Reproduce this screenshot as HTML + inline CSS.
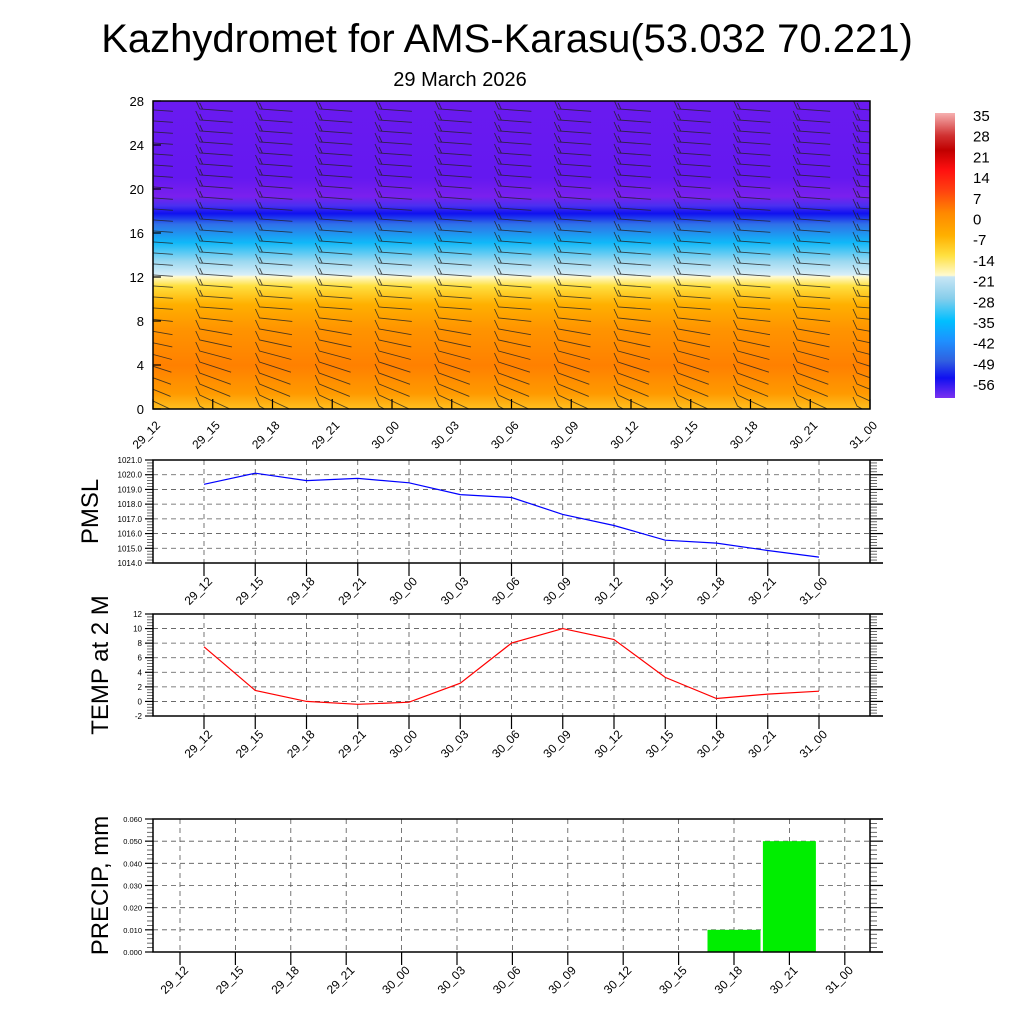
<!DOCTYPE html>
<html><head><meta charset="utf-8"><style>
html,body{margin:0;padding:0;background:#fff;}
svg{display:block;font-family:"Liberation Sans",sans-serif;}
</style></head><body>
<svg id="c" width="1024" height="1024" viewBox="0 0 1024 1024" xmlns="http://www.w3.org/2000/svg">
<defs>
<clipPath id="clipTop"><rect x="153" y="101" width="717" height="308"/></clipPath>
<linearGradient id="tg" x1="0" y1="0" x2="0" y2="1">
<stop offset="0" stop-color="#6a1af0"/>
<stop offset="0.25" stop-color="#6418f0"/>
<stop offset="0.31" stop-color="#7a20ee"/>
<stop offset="0.34" stop-color="#4a30f0"/>
<stop offset="0.365" stop-color="#1010f0"/>
<stop offset="0.40" stop-color="#3070e8"/>
<stop offset="0.46" stop-color="#10b8f8"/>
<stop offset="0.52" stop-color="#9ad8f0"/>
<stop offset="0.565" stop-color="#d8eef8"/>
<stop offset="0.57" stop-color="#fffad0"/>
<stop offset="0.60" stop-color="#ffe040"/>
<stop offset="0.66" stop-color="#ffb000"/>
<stop offset="0.74" stop-color="#ff9400"/>
<stop offset="0.86" stop-color="#ff8000"/>
<stop offset="0.95" stop-color="#ff9a00"/>
<stop offset="1" stop-color="#ffc020"/>
</linearGradient>
<linearGradient id="cb" x1="0" y1="0" x2="0" y2="1">
<stop offset="0" stop-color="#f6b0b0"/>
<stop offset="0.08" stop-color="#d03030"/>
<stop offset="0.13" stop-color="#c00000"/>
<stop offset="0.2" stop-color="#ff1010"/>
<stop offset="0.27" stop-color="#ff4010"/>
<stop offset="0.35" stop-color="#ff8800"/>
<stop offset="0.43" stop-color="#ffb000"/>
<stop offset="0.5" stop-color="#ffe040"/>
<stop offset="0.57" stop-color="#fffad0"/>
<stop offset="0.575" stop-color="#c8e6f5"/>
<stop offset="0.65" stop-color="#87ceeb"/>
<stop offset="0.73" stop-color="#00bfff"/>
<stop offset="0.8" stop-color="#1e90ff"/>
<stop offset="0.87" stop-color="#3060e0"/>
<stop offset="0.93" stop-color="#1010f0"/>
<stop offset="1" stop-color="#7a30f0"/>
</linearGradient>
</defs>
<text x="507" y="52" font-size="40" text-anchor="middle">Kazhydromet for AMS-Karasu(53.032 70.221)</text>
<text x="460" y="86" font-size="20" text-anchor="middle">29 March 2026</text>
<rect x="153" y="101" width="717" height="308" fill="url(#tg)"/>
<g id="barbs" clip-path="url(#clipTop)"></g>
<rect x="153" y="101" width="717" height="308" fill="none" stroke="#000" stroke-width="1.5"/>
<g id="topaxes"></g>
<rect x="935" y="113" width="20" height="285" fill="url(#cb)"/>
<g id="cbl"></g>
<g id="pm"></g>
<g id="tp"></g>
<g id="pr"></g>
</svg>
<script>
const times=["29_12","29_15","29_18","29_21","30_00","30_03","30_06","30_09","30_12","30_15","30_18","30_21","31_00"];
const pmsl=[1019.35,1020.1,1019.6,1019.75,1019.45,1018.65,1018.45,1017.3,1016.55,1015.55,1015.35,1014.85,1014.4];
const temp=[7.5,1.5,0,-0.4,-0.1,2.5,8,10,8.5,3.3,0.4,1.0,1.4];
const precip=[0,0,0,0,0,0,0,0,0,0,0.01,0.05,0];
const heightTicks=[0,4,8,12,16,20,24,28];
const cbLabels=["35","28","21","14","7","0","-7","-14","-21","-28","-35","-42","-49","-56"];
const pmslTicks=[1014,1015,1016,1017,1018,1019,1020,1021];
const tempTicks=[-2,0,2,4,6,8,10,12];
const precipTicks=[0,0.01,0.02,0.03,0.04,0.05,0.06];
const barbTilt=[30,25,22,20,18,15,12,10,6,4,4,4,4,4,4,4,4,4,4,4,4,4,4,4,4,4,4,4,4];

const NS="http://www.w3.org/2000/svg";
function mk(p,t,a,txt){const e=document.createElementNS(NS,t);for(const k in a)e.setAttribute(k,a[k]);if(txt!==undefined)e.textContent=txt;p.appendChild(e);return e;}
const topG=document.getElementById('topaxes');
const tx=i=>153+59.75*i, ty=v=>409-11*v;
heightTicks.forEach(v=>{
 const l=mk(topG,'line',{x1:153,x2:161,y1:ty(v),y2:ty(v),stroke:'#000','stroke-width':1.2});
 
 
 const t=mk(topG,'text',{x:144,y:ty(v)+5,'font-size':13,'text-anchor':'end'},String(v));
 
 
});
times.forEach((s,i)=>{
 const l=mk(topG,'line',{x1:tx(i),x2:tx(i),y1:409,y2:399,stroke:'#000','stroke-width':1.2});
 
 
 const t=mk(topG,'text',{x:0,y:0,'font-size':12,'text-anchor':'end',transform:`translate(${tx(i)+8},${426}) rotate(-45)`},s);
 
 
});
const bg=document.getElementById('barbs');
times.forEach((s,i)=>{
 for(let k=0;k<28;k++){
  const cx=tx(i), y=ty(k)-3; const a=barbTilt[k]*Math.PI/180;
  const x0=cx-13, x1=x0+33*Math.cos(a), y1=y+33*Math.sin(a);
  const g=mk(bg,'path',{d:`M${x1.toFixed(1)},${y1.toFixed(1)}L${x0},${y}L${x0-4},${y-9}`+(k>9?`M${x0+3},${(y+0.3).toFixed(1)}L${x0},${y-6}`:''),stroke:'#222','stroke-width':0.9,fill:'none','stroke-opacity':0.8});
  
  
 }
});
const cbl=document.getElementById('cbl');
cbLabels.forEach((s,i)=>{const t=mk(cbl,'text',{x:973,y:121+20.7*i,'font-size':15},s);
 
 });

function panel(id,y0,y1,ticks,fmt,fs,vals,color,title,titleY,xOf,labelY,isBar){
 const g=document.getElementById(id);
 const lo=ticks[0],hi=ticks[ticks.length-1];
 const Y=v=>y1-(v-lo)/(hi-lo)*(y1-y0);
 ticks.forEach((v,j)=>{
  if(j>0&&j<ticks.length-1){const d=mk(g,'line',{x1:153,x2:870,y1:Y(v),y2:Y(v),stroke:'#555','stroke-dasharray':'5,4','stroke-width':0.8});
  
  }
  const t=mk(g,'text',{x:142,y:Y(v)+3,'font-size':fs,'text-anchor':'end'},fmt(v));
  
  
  [[145,153],[870,883]].forEach(([a,b])=>{const l=mk(g,'line',{x1:a,x2:b,y1:Y(v),y2:Y(v),stroke:'#000','stroke-width':1.2});
   
   });
  if(j<ticks.length-1)for(let m=1;m<5;m++){const yy=Y(v)+(Y(ticks[j+1])-Y(v))*m/5;
   [[147,153],[870,877]].forEach(([a,b])=>{const l=mk(g,'line',{x1:a,x2:b,y1:yy,y2:yy,stroke:'#444','stroke-width':0.8});
   
   });}
 });
 times.forEach((s,i)=>{
  const x=xOf(i);
  const d=mk(g,'line',{x1:x,x2:x,y1:y0,y2:y1,stroke:'#555','stroke-dasharray':'5,4','stroke-width':0.8});
  
  
  const l=mk(g,'line',{x1:x,x2:x,y1:y1,y2:y1+13,stroke:'#000','stroke-width':1.2});
  
  
  const t=mk(g,'text',{x:0,y:0,'font-size':12,'text-anchor':'end',transform:`translate(${x+9},${labelY}) rotate(-45)`},s);
  
  
 });
 if(isBar){
  vals.forEach((v,i)=>{if(v<=0)return;const r=mk(g,'rect',{x:xOf(i)-26.5,y:Y(v),width:53,height:y1-Y(v),fill:'#00ee00'});
   
   });
 } else {
  const p=mk(g,'polyline',{points:vals.map((v,i)=>xOf(i)+','+Y(v).toFixed(1)).join(' '),fill:'none',stroke:color,'stroke-width':1.2});
  
  
 }
 const f=mk(g,'path',{d:`M883,${y0}H153V${y1}H883M870,${y0}V${y1}`,fill:'none',stroke:'#000','stroke-width':1.5});
 
 
 const cy=(y0+y1)/2;
 const t=mk(g,'text',{x:0,y:0,'font-size':24,'text-anchor':'middle',transform:`translate(${titleY},${cy}) rotate(-90)`},title);
 
 
}
const lx=i=>204+51.25*i;
panel('pm',460,563,pmslTicks,v=>v.toFixed(1),8,pmsl,'#0000ff','PMSL',98,lx,582);
panel('tp',614,716,tempTicks,v=>String(v),8,temp,'#ff0000','TEMP at 2 M',108,lx,735);
panel('pr',819,952,precipTicks,v=>v.toFixed(3),7.5,precip,'','PRECIP, mm',108,i=>180+55.4*i,971,true);
</script>
</body></html>
